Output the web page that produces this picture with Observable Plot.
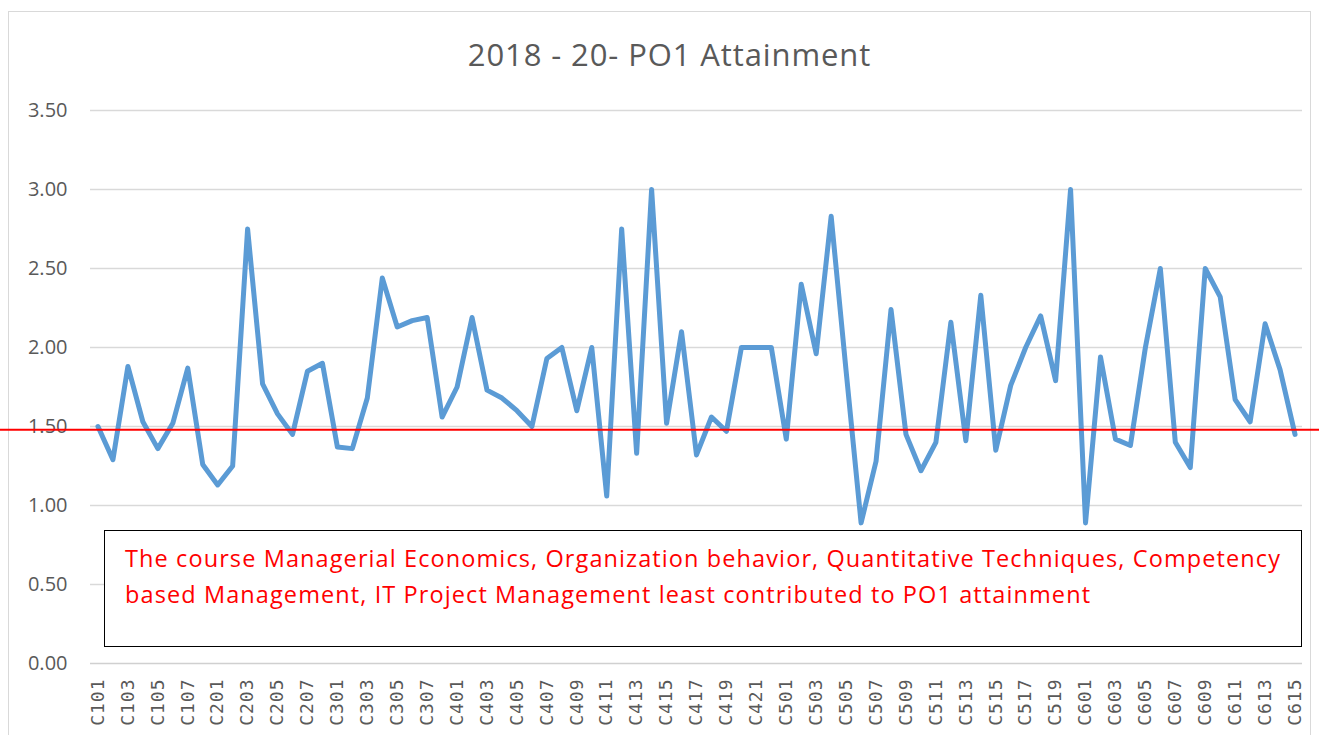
<!DOCTYPE html>
<html><head><meta charset="utf-8">
<script src="https://cdn.jsdelivr.net/npm/d3@7"></script>
<script src="https://cdn.jsdelivr.net/npm/@observablehq/plot@0.6"></script>
<style>
body{margin:0;background:#fff;}
#wrap{position:relative;width:1319px;height:735px;overflow:hidden;font-family:"Open Sans",sans-serif;}
#frame{position:absolute;left:8px;top:11px;width:1303px;height:760px;border:1px solid #d9d9d9;box-sizing:border-box;}
#title{position:absolute;left:0;width:1339px;top:38.5px;text-align:center;font-size:31px;line-height:31px;letter-spacing:0.9px;color:#595959;white-space:nowrap;}
#note{position:absolute;left:104px;top:530px;width:1198px;height:117px;border:1px solid #000;background:#fff;box-sizing:border-box;color:#ff0000;font-size:23.5px;letter-spacing:1.1px;padding:8.6px 0 0 20px;line-height:36px;white-space:nowrap;}
#chart{position:absolute;left:0;top:0;}
#chart g[aria-label="x-axis tick label"] text{font-family:"DejaVu Sans Mono",monospace;font-size:18px;letter-spacing:1px;}
</style></head>
<body>
<div id="wrap">
<div id="frame"></div>
<div id="chart"></div>
<div id="note">The course Managerial Economics, Organization behavior, Quantitative Techniques, Competency<br>based Management, IT Project Management least contributed to PO1 attainment</div>
<div id="title">2018 - 20- PO1 Attainment</div>
</div>
<script>
const categories = [
 "C101","C102","C103","C104","C105","C106","C107","C108",
 "C201","C202","C203","C204","C205","C206","C207","C208",
 "C301","C302","C303","C304","C305","C306","C307","C308",
 "C401","C402","C403","C404","C405","C406","C407","C408","C409","C410","C411","C412","C413","C414","C415","C416","C417","C418","C419","C420","C421","C422",
 "C501","C502","C503","C504","C505","C506","C507","C508","C509","C510","C511","C512","C513","C514","C515","C516","C517","C518","C519","C520",
 "C601","C602","C603","C604","C605","C606","C607","C608","C609","C610","C611","C612","C613","C614","C615"
];
const values = [
 1.50,1.29,1.88,1.53,1.36,1.52,1.87,1.26,
 1.13,1.25,2.75,1.77,1.58,1.45,1.85,1.90,
 1.37,1.36,1.68,2.44,2.13,2.17,2.19,1.56,
 1.75,2.19,1.73,1.68,1.60,1.50,1.93,2.00,1.60,2.00,1.06,2.75,1.33,3.00,1.52,2.10,1.32,1.56,1.47,2.00,2.00,2.00,
 1.42,2.40,1.96,2.83,1.85,0.89,1.28,2.24,1.45,1.22,1.40,2.16,1.41,2.33,1.35,1.76,2.00,2.20,1.79,3.00,
 0.89,1.94,1.42,1.38,2.00,2.50,1.40,1.24,2.50,2.32,1.67,1.53,2.15,1.86,1.45
];
const xTickLabels = categories.filter((d, i) => i % 2 === 0);
const yTicks = [0, 0.5, 1.0, 1.5, 2.0, 2.5, 3.0, 3.5];
const threshold = [1.48];

const data = categories.map((c, i) => ({course: c, value: values[i]}));

const chart = Plot.plot({
  width: 1319, height: 735,
  marginLeft: 90, marginRight: 17, marginTop: 110, marginBottom: 72,
  style: {fontFamily: '"Open Sans", sans-serif', fontSize: "20px", color: "#595959", background: "transparent", overflow: "visible"},
  x: {type: "point", domain: categories, padding: 0.5, label: null, tickRotate: -90, tickSize: 0, tickPadding: 15, ticks: xTickLabels},
  y: {domain: [0, 3.5], ticks: yTicks, tickFormat: d => d.toFixed(2), label: null, tickSize: 0, tickPadding: 23},
  marks: [
    Plot.gridY(yTicks.slice(1), {stroke: "#d9d9d9", strokeOpacity: 1, strokeWidth: 1.3}),
    Plot.ruleY([0], {stroke: "#d0d0d0", strokeWidth: 1.3}),
    Plot.line(data, {x: "course", y: "value", stroke: "#5b9bd5", strokeWidth: 5, strokeLinejoin: "round", strokeLinecap: "round"}),
    Plot.ruleY(threshold, {stroke: "#ff0000", strokeWidth: 2, insetLeft: -90, insetRight: -17})
  ]
});
document.getElementById("chart").appendChild(chart);
</script>
</body></html>
